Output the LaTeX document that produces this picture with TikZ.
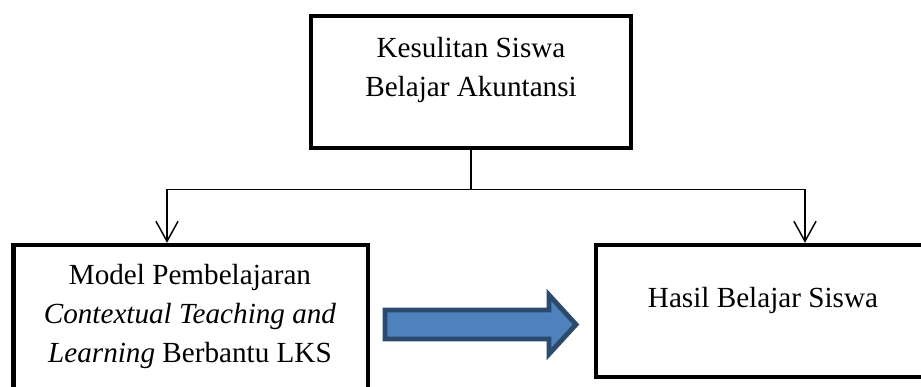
\documentclass[tikz,border=0pt]{standalone}
\usepackage{fontspec}
\setmainfont{Liberation Serif}
\usepackage{tikz}
\usetikzlibrary{arrows.meta}
\definecolor{blokisi}{HTML}{4F81BD}
\definecolor{bloktepi}{HTML}{2B4A6E}

\begin{document}
\begin{tikzpicture}[
          box/.style={draw, line width=1.8pt, inner sep=0pt},
          teks/.style={align=center, font=\fontsize{12}{16}\selectfont},
          panah/.style={-{Straight Barb[length=2.9mm,width=3.2mm]}, line width=0.6pt},
          garis/.style={line width=0.6pt},
          blok/.style={fill=blokisi, draw=bloktepi, line width=2pt, line join=miter},
        ]
          \useasboundingbox (0,0) rectangle (13.318,-5.596);
          \clip (0,0) rectangle (13.318,-5.596);
          \node[box, minimum width=4.627cm, minimum height=1.909cm] (kesulitan) at (6.811,-1.186) {};
          \node[box, minimum width=5.126cm, minimum height=2.531cm] (model) at (2.758,-4.808) {};
          \node[box, minimum width=5.200cm, minimum height=1.909cm] (hasil) at (11.218,-4.497) {};
          \node[teks] (kesulitanTeks) at (6.811,-1.012) {Kesulitan Siswa\\Belajar Akuntansi};
          \node[teks] (modelTeks) at (2.747,-4.577) {Model Pembelajaran\\\textit{Contextual Teaching and}\\\textit{Learning} Berbantu LKS};
          \node[teks] (hasilTeks) at (11.033,-4.338) {Hasil Belajar Siswa};
          \coordinate (cabang) at (kesulitan.south |- 0,-2.740);
          \coordinate (kiri) at (2.415,-2.740);
          \coordinate (kanan) at (11.640,-2.740);
          \draw[garis] (kesulitan.south) -- (cabang);
          \draw[garis] (kiri) -- (kanan);
          \draw[panah] (kiri) -- (kiri |- model.north);
          \draw[panah] (kanan) -- (kanan |- hasil.north);
          % panah biru
          \draw[blok] (5.567,-4.483) -- (7.939,-4.483) -- (7.939,-4.266) -- (8.329,-4.692)
            -- (7.939,-5.119) -- (7.939,-4.902) -- (5.567,-4.902) -- cycle;
        \end{tikzpicture}
\end{document}
